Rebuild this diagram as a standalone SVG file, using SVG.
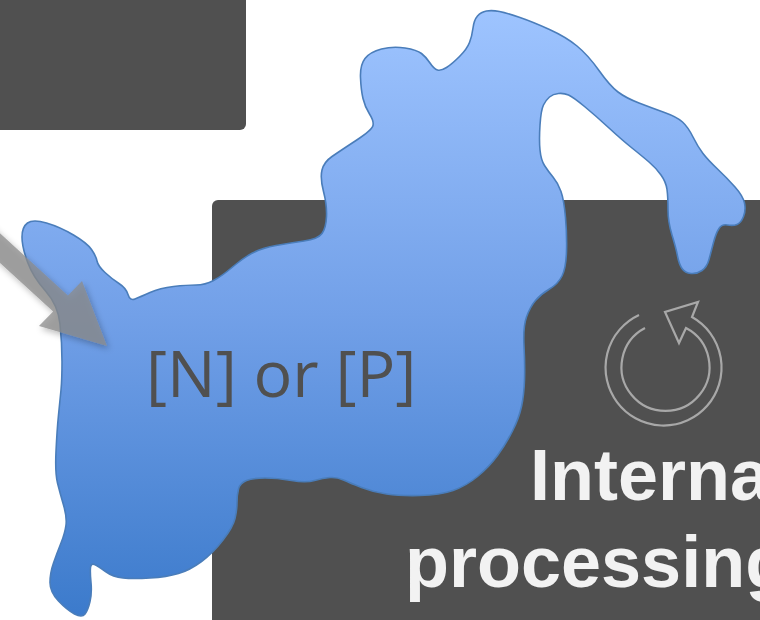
<svg xmlns="http://www.w3.org/2000/svg" width="760" height="620" viewBox="0 0 760 620">
  <defs>
    <linearGradient id="blobGrad" x1="0" y1="10" x2="0" y2="620" gradientUnits="userSpaceOnUse">
      <stop offset="0" stop-color="#9ec4ff"/>
      <stop offset="0.5" stop-color="#72a0e8"/>
      <stop offset="1" stop-color="#3b7acb"/>
    </linearGradient>
    <filter id="shadow" x="-30%" y="-30%" width="160%" height="160%">
      <feDropShadow dx="2" dy="3" stdDeviation="3" flood-color="#000" flood-opacity="0.35"/>
    </filter>
    <style>
      .panel { fill: #505050; }
      .blob { fill: url(#blobGrad); stroke: #4a7dba; stroke-width: 1.6; }
      .label { font-family: "Open Sans", "DejaVu Sans", sans-serif; font-size: 64.5px; fill: #505050; }
      .title { font-family: "Liberation Sans", Arial, sans-serif; font-weight: bold; font-size: 72px; fill: #f2f2f2; }
      .icon { fill: none; stroke: #a8a8a8; stroke-width: 2.2; stroke-linejoin: miter; }
      .arrow { fill: #8c8c8c; fill-opacity: 0.75; filter: url(#shadow); }
    </style>
  </defs>

  <g id="panel-top">
    <rect class="panel" x="-10" y="-10" width="256" height="140" rx="6"/>
  </g>

  <g id="panel-internal">
    <rect class="panel" x="212" y="200" width="560" height="430" rx="6"/>
    <path class="icon" d="M639,315 A58,58 0 1 0 692,317 L698,302 L665,312 L679,343 L686,328 A44,44 0 1 1 645,328"/>
    <text class="title" x="530" y="500">Internal</text>
    <text class="title" x="405" y="587">processing</text>
  </g>

  <g id="blob-node">
    <path class="blob" d="M22,237 Q22,227 27.5,223 Q33,219 46.5,223 Q60,227 73.5,235 Q87,243 91.5,249.5 Q96,256 97,261 Q98,266 105,272.5 Q112,279 119,283.5 Q126,288 128,294.5 Q130,301 135,299 Q140,297 150,292.5 Q160,288 173.5,286.5 Q187,285 196,285 Q205,285 213.5,280.5 Q222,276 232.5,267 Q243,258 252.5,253 Q262,248 276,245.5 Q290,243 304,241 Q318,239 322,233.5 Q326,228 326.5,216.5 Q327,205 323.5,191.5 Q320,178 322,170 Q324,162 332,156.5 Q340,151 356,140.5 Q372,130 373,125.5 Q374,121 369.5,114 Q365,107 363,98.5 Q361,90 360.5,77.5 Q360,65 365,58.5 Q370,52 381.5,49 Q393,46 405,48 Q417,50 421.5,53.5 Q426,57 430,63 Q434,69 437.5,70 Q441,71 446.5,67.5 Q452,64 459.5,56.5 Q467,49 469.5,42.5 Q472,36 473,28 Q474,20 477.5,16 Q481,12 486.5,11 Q492,10 499.5,11.5 Q507,13 520,17.5 Q533,22 549.5,29.5 Q566,37 577,46 Q588,55 599,70.5 Q610,86 618,92 Q626,98 639,103 Q652,108 664.5,112.5 Q677,117 682.5,122 Q688,127 693,137 Q698,147 703,153.5 Q708,160 717.5,169 Q727,178 735,187 Q743,196 744.5,203 Q746,210 743.5,216.5 Q741,223 737,224.5 Q733,226 727.5,225 Q722,224 719,228.5 Q716,233 713.5,242.5 Q711,252 709,259.5 Q707,267 702,270.5 Q697,274 691,273.5 Q685,273 682,268.5 Q679,264 677.5,256 Q676,248 672,235 Q668,222 668,209.5 Q668,197 667,189.5 Q666,182 661,175 Q656,168 649,162 Q642,156 632,148 Q622,140 609,128 Q596,116 584.5,106.5 Q573,97 568.5,95 Q564,93 558.5,93.5 Q553,94 549.5,97 Q546,100 543.5,105 Q541,110 540,125 Q539,140 540,150 Q541,160 544.5,165.5 Q548,171 553,177 Q558,183 561,191.5 Q564,200 565.5,217.5 Q567,235 566.5,251.5 Q566,268 562,276 Q558,284 549.5,289 Q541,294 535.5,300.5 Q530,307 526.5,317 Q523,327 524,346 Q525,365 524.5,380 Q524,395 521.5,406.5 Q519,418 512.5,431 Q506,444 497.5,455.5 Q489,467 477.5,476.5 Q466,486 453,490.5 Q440,495 420,495.5 Q400,496 386.5,494 Q373,492 361.5,487.5 Q350,483 343.5,480 Q337,477 330,477.5 Q323,478 314.5,480.5 Q306,483 291.5,480.5 Q277,478 265,478 Q253,478 246.5,480.5 Q240,483 238.5,489 Q237,495 237,502.5 Q237,510 235,518.5 Q233,527 223,540 Q213,553 201.5,561.5 Q190,570 178.5,573.5 Q167,577 150,578 Q133,579 123,578 Q113,577 105.5,571.5 Q98,566 94.5,564.5 Q91,563 90.5,567.5 Q90,572 91,582.5 Q92,593 90,601.5 Q88,610 85,614 Q82,618 74.5,614 Q67,610 58.5,601 Q50,592 50,582.5 Q50,573 53.5,563 Q57,553 61,543 Q65,533 66,525 Q67,517 63.5,505 Q60,493 57.5,483 Q55,473 56,451.5 Q57,430 58.5,415 Q60,400 61,390 Q62,380 62,361.5 Q62,343 60,324 Q58,305 45.5,291 Q33,277 27.5,262 Q22,247 22,237 Z"/>
    <text class="label" x="146" y="397">[N] or [P]</text>
  </g>

  <g id="connectors">
    <polygon class="arrow" points="-20.7,214.4 67.9,295.4 82,281 107,346 39,326 53.1,311.6 -35.5,230.6"/>
  </g>
</svg>
